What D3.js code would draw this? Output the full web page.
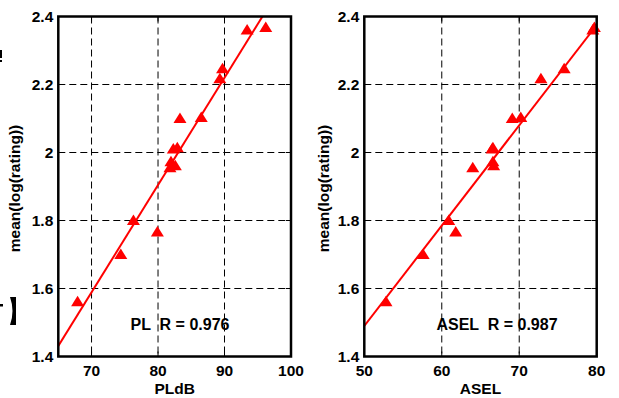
<!DOCTYPE html>
<html><head><meta charset="utf-8">
<script src="https://cdn.jsdelivr.net/npm/d3@7"></script>
<style>body{margin:0;background:#fff}svg{display:block}text{font-family:"Liberation Sans",Arial,sans-serif;font-weight:bold;fill:#000;white-space:pre}</style>
</head><body>
<script>
const ratings = [2.360, 2.368, 2.246, 2.217, 2.100, 2.103, 2.014, 2.010, 1.973, 1.961, 1.955, 1.800, 1.766, 1.700, 1.561];
const pldb    = [93.4, 96.2, 89.7, 89.3, 83.3, 86.5, 82.9, 82.3, 81.95, 82.6, 81.8, 76.3, 79.9, 74.4, 67.9];
const asel    = [79.5, 79.7, 75.8, 72.8, 69.1, 70.2, 66.6, 66.5, 66.6, 66.7, 64.0, 60.9, 61.8, 57.6, 52.8];
const yTicks = [1.4, 1.6, 1.8, 2, 2.2, 2.4];
const pldbTicks = [70, 80, 90, 100];
const aselTicks = [50, 60, 70, 80];
const fitSlope = [0.03156, 0.0295];
const fitIntercept = [-0.6204, 0.015];
const panelNames = ["PLdB", "ASEL"];
const annotations = ["PL  R = 0.976", "ASEL  R = 0.987"];

const panels = [
  {x: pldb, dom: [65, 100], ticks: pldbTicks, grid: [70, 80, 90], left: 58.3, right: 291, label: panelNames[0], ann: annotations[0], annX: 180, ylabX: 20, slope: fitSlope[0], icpt: fitIntercept[0]},
  {x: asel, dom: [50, 80], ticks: aselTicks, grid: [60, 70], left: 364.3, right: 596.7, label: panelNames[1], ann: annotations[1], annX: 497, ylabX: 329, slope: fitSlope[1], icpt: fitIntercept[1]}
];
const plotTop = 16.5, plotBottom = 356.5;
const svg = d3.select("body").append("svg").attr("width", 619).attr("height", 398);

// cropped fragments of neighbouring figure
svg.append("path").attr("d", "M10,297 L16,297 L16,325 L10,325 Q15,311 10,297 Z").attr("fill", "#000");
svg.append("rect").attr("x", 0).attr("y", 304).attr("width", 3).attr("height", 2.5).attr("fill", "#000");
svg.append("rect").attr("x", 0).attr("y", 50).attr("width", 2).attr("height", 8).attr("fill", "#000");
svg.append("rect").attr("x", 0).attr("y", 60).attr("width", 2).attr("height", 2).attr("fill", "#000");

const y = d3.scaleLinear().domain([1.4, 2.4]).range([plotBottom, plotTop]);

panels.forEach((p, i) => {
  const x = d3.scaleLinear().domain(p.dom).range([p.left, p.right]);
  const g = svg.append("g");
  const cid = "clip" + i;
  svg.append("clipPath").attr("id", cid).append("rect")
    .attr("x", p.left).attr("y", plotTop).attr("width", p.right - p.left).attr("height", plotBottom - plotTop);

  // grid
  p.grid.forEach(v => g.append("line").attr("x1", x(v)).attr("x2", x(v)).attr("y1", plotTop).attr("y2", plotBottom)
    .attr("stroke", "#000").attr("stroke-width", 1).attr("stroke-dasharray", "7,4"));
  [1.6, 1.8, 2, 2.2].forEach(v => g.append("line").attr("y1", y(v)).attr("y2", y(v)).attr("x1", p.left).attr("x2", p.right)
    .attr("stroke", "#000").attr("stroke-width", 1).attr("stroke-dasharray", "7,4"));

  // inward ticks
  p.ticks.forEach(v => {
    g.append("line").attr("x1", x(v)).attr("x2", x(v)).attr("y1", plotBottom).attr("y2", plotBottom - 5).attr("stroke", "#000").attr("stroke-width", 1);
    g.append("line").attr("x1", x(v)).attr("x2", x(v)).attr("y1", plotTop).attr("y2", plotTop + 5).attr("stroke", "#000").attr("stroke-width", 1);
  });
  yTicks.forEach(v => {
    g.append("line").attr("x1", p.left).attr("x2", p.left + 5).attr("y1", y(v)).attr("y2", y(v)).attr("stroke", "#000").attr("stroke-width", 1);
    g.append("line").attr("x1", p.right).attr("x2", p.right - 5).attr("y1", y(v)).attr("y2", y(v)).attr("stroke", "#000").attr("stroke-width", 1);
  });

  // fit line
  g.append("line").attr("clip-path", `url(#${cid})`)
    .attr("x1", x(p.dom[0])).attr("y1", y(p.icpt + p.slope * p.dom[0]))
    .attr("x2", x(p.dom[1])).attr("y2", y(p.icpt + p.slope * p.dom[1]))
    .attr("stroke", "#ff0000").attr("stroke-width", 2);

  // markers
  g.selectAll("path.m").data(p.x.map((v, k) => [v, ratings[k]])).enter().append("path")
    .attr("d", "M0,-6 L6.5,4.5 L-6.5,4.5 Z")
    .attr("transform", d => `translate(${x(d[0])},${y(d[1])})`)
    .attr("fill", "#ff0000");

  // frame
  g.append("rect").attr("x", p.left).attr("y", plotTop).attr("width", p.right - p.left).attr("height", plotBottom - plotTop)
    .attr("fill", "none").attr("stroke", "#000").attr("stroke-width", 2.5);

  // tick labels
  p.ticks.forEach(v => g.append("text").attr("x", x(v)).attr("y", plotBottom + 19).attr("text-anchor", "middle")
    .attr("font-size", 15.5).text(v));
  yTicks.forEach(v => g.append("text").attr("x", p.left - 5).attr("y", y(v) + 5).attr("text-anchor", "end")
    .attr("font-size", 15.5).text(v));

  // axis labels
  g.append("text").attr("x", (p.left + p.right) / 2).attr("y", 394).attr("text-anchor", "middle").attr("font-size", 15.5).text(p.label);
  g.append("text").attr("transform", `translate(${p.ylabX},${(plotTop + plotBottom) / 2 + 2}) rotate(-90)`)
    .attr("text-anchor", "middle").attr("font-size", 15.5).text("mean(log(rating))");

  // annotation
  g.append("text").attr("x", p.annX).attr("y", 330).attr("text-anchor", "middle").attr("font-size", 16).text(p.ann);
});
</script>
</body></html>
